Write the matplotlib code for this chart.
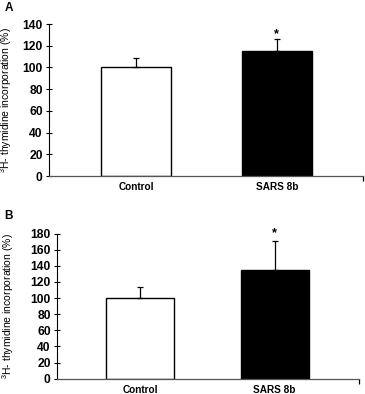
import matplotlib
matplotlib.use("Agg")
import matplotlib.pyplot as plt

categories = ["Control", "SARS 8b"]
values_a = [100, 115]
errors_a = [9, 11]
values_b = [100, 135]
errors_b = [14, 36]
yticks_a = [0, 20, 40, 60, 80, 100, 120, 140]
yticks_b = [0, 20, 40, 60, 80, 100, 120, 140, 160, 180]
colors = ["white", "black"]
ylabel = "$^3$H- thymidine incorporation (%)"

plt.rcParams['font.family'] = ['Liberation Sans', 'DejaVu Sans']
plt.rcParams['mathtext.fontset'] = 'custom'
plt.rcParams['mathtext.rm'] = 'Liberation Sans'

fig = plt.figure(figsize=(3.65, 3.94), dpi=100)

def panel(rect, vals, errs, yticks, xlim, width, letter, letter_pos, star_off):
    ax = fig.add_axes(rect)
    x = list(range(len(categories)))
    ax.bar(x, vals, width=width, color=colors, edgecolor="black", linewidth=1.0, zorder=2)
    ax.errorbar(x, vals, yerr=[[0] * len(errs), errs], fmt="none", ecolor="black",
                elinewidth=0.9, capsize=2.5, capthick=0.9, zorder=3)
    # significance star
    ax.text(1, vals[1] + errs[1] + star_off, "*", ha="center", va="bottom",
            fontsize=9, fontweight="bold")
    ax.set_xlim(*xlim)
    ax.set_ylim(0, yticks[-1])
    ax.set_yticks(yticks)
    ax.set_yticklabels([str(t) for t in yticks], fontsize=8.7, fontweight="bold")
    ax.set_xticks(x + [xlim[1]])
    ax.set_xticklabels(categories + [""], fontsize=7.2, fontweight="bold")
    ticks = ax.xaxis.get_major_ticks()
    for t in ticks[:len(categories)]:
        t.tick1line.set_visible(False)
    ax.tick_params(axis="x", direction="out", length=3.5, width=0.9, pad=1)
    ax.tick_params(axis="y", direction="inout", length=5, width=0.8, pad=2)
    for s in ["top", "right"]:
        ax.spines[s].set_visible(False)
    ax.spines["left"].set_linewidth(0.8)
    ax.spines["bottom"].set_linewidth(0.9)
    ax.spines["bottom"].set_color("#555555")
    ax.spines["bottom"].set_zorder(5)
    ax.set_ylabel(ylabel, fontsize=7.5)
    fig.text(letter_pos[0], letter_pos[1], letter, fontsize=8.5, fontweight="bold",
             ha="left", va="center")
    return ax

axA = panel([0.134, 0.553, 0.861, 0.386], values_a, errors_a, yticks_a,
            (-0.62, 1.615), 0.5, "A", (0.012, 0.98), -1)
axA.yaxis.set_label_coords(-0.11, 0.5)
axB = panel([0.156, 0.039, 0.828, 0.368], values_b, errors_b, yticks_b,
            (-0.617, 1.628), 0.505, "B", (0.012, 0.452), 2)
axB.yaxis.set_label_coords(-0.135, 0.5)

fig.savefig("out.png", dpi=100)
